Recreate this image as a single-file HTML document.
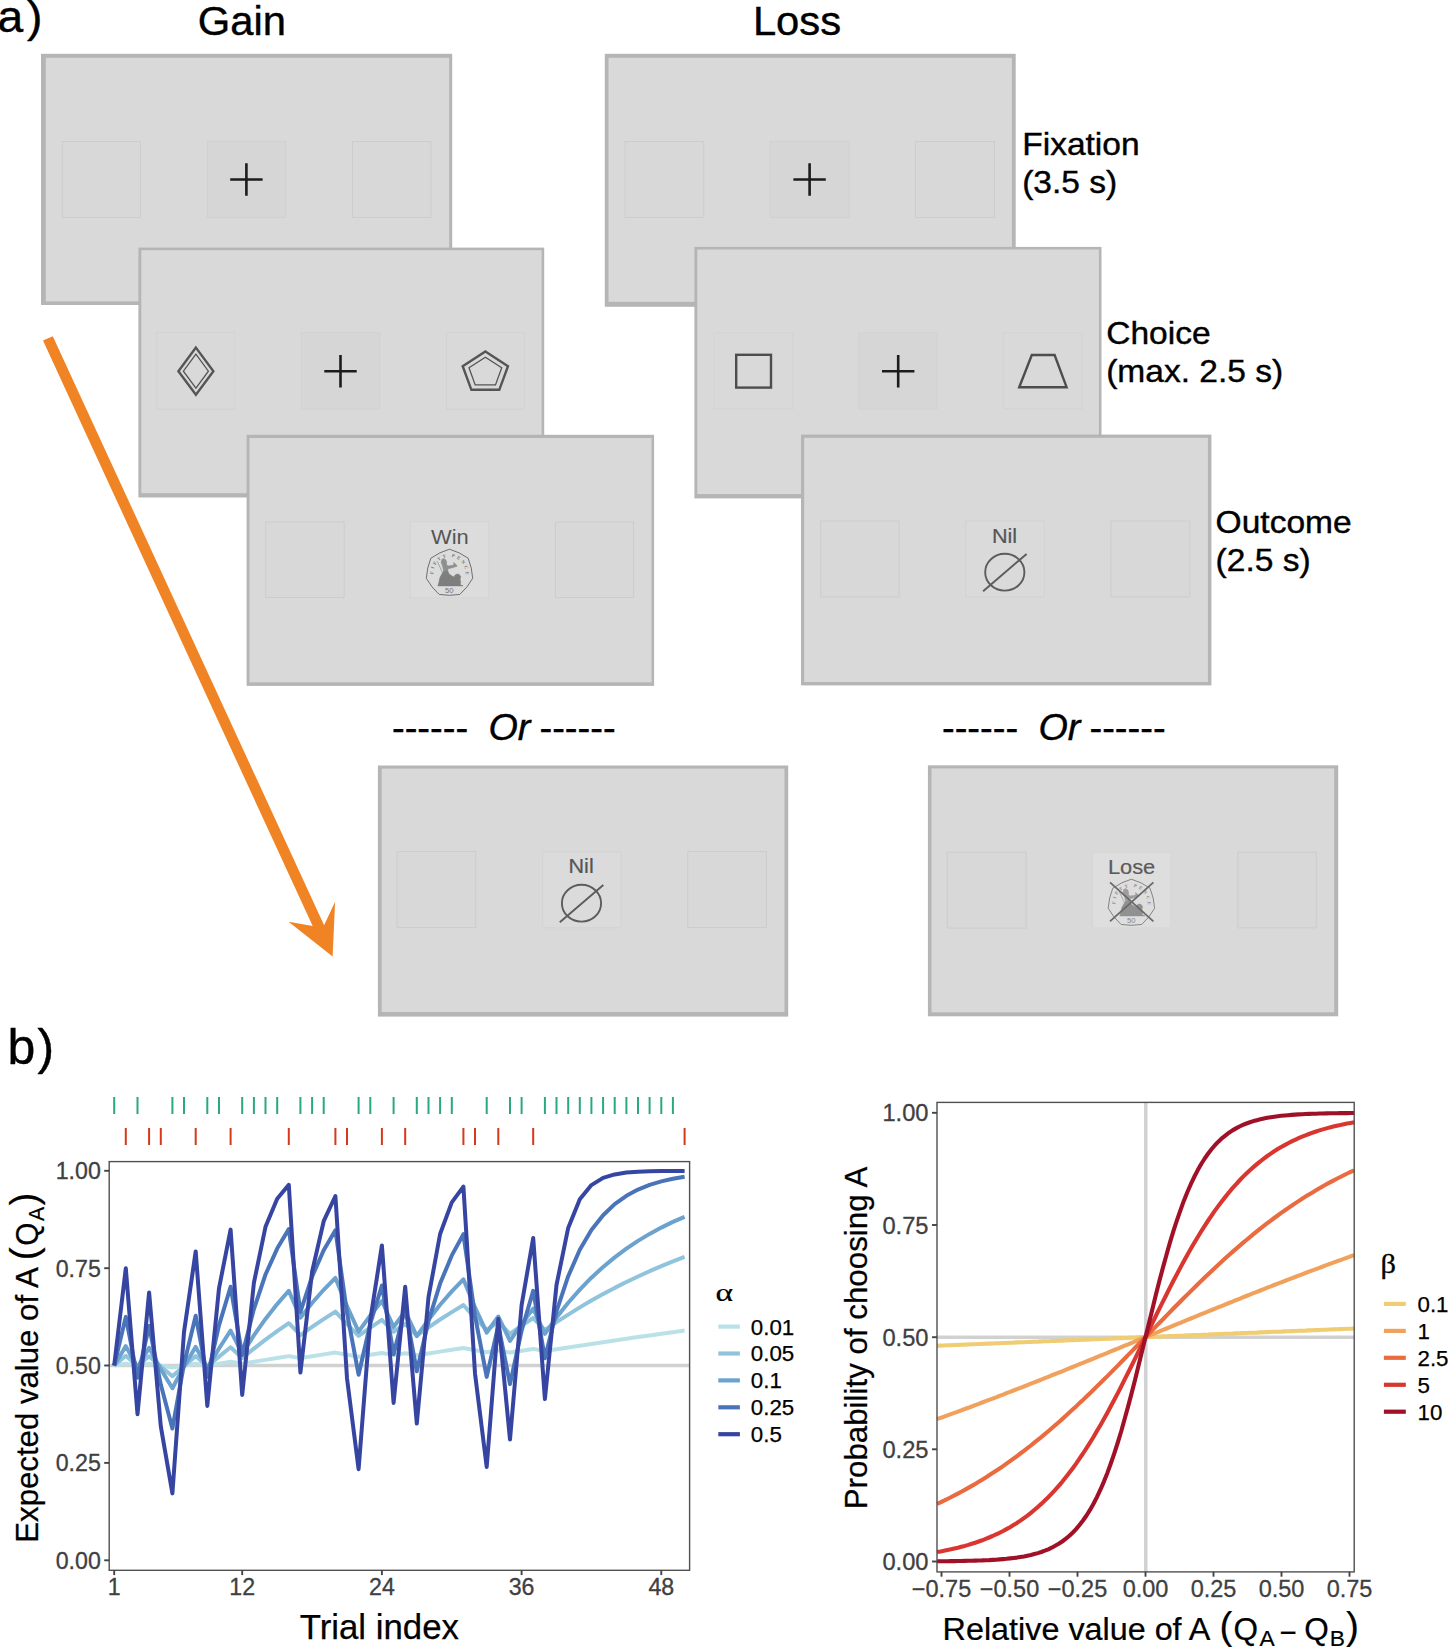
<!DOCTYPE html>
<html lang="en"><head><meta charset="utf-8"><title>Figure</title>
<style>
html,body{margin:0;padding:0;background:#fff;}
svg{display:block;}
text{font-family:"Liberation Sans",sans-serif;}
</style></head><body>
<svg width="1450" height="1649" viewBox="0 0 1450 1649">
<rect width="1450" height="1649" fill="#fff"/>
<text transform="translate(-2.4 32.2) scale(1.04 1)" font-size="44.5" fill="#000" stroke="#000" stroke-width="0.4">a</text>
<text transform="translate(27.0 32.2) scale(1.04 1)" font-size="44.5" fill="#000" stroke="#000" stroke-width="0.4">)</text>
<text transform="translate(197.8 35.3) scale(1.044 1)" font-size="40" fill="#000" stroke="#000" stroke-width="0.4">Gain</text>
<text transform="translate(752.9 35.3) scale(1.044 1)" font-size="40" fill="#000" stroke="#000" stroke-width="0.4">Loss</text>
<rect x="41" y="53.8" width="411.2" height="251.2" fill="#b5b5b5"/>
<rect x="45.8" y="57.8" width="403.4" height="243.6" fill="#d9d9d9"/>
<rect x="62.2" y="141.5" width="78.3" height="76.0" fill="#d8d8d8" stroke="#cdcdcd" stroke-width="1"/>
<rect x="207.4" y="141.5" width="78.4" height="76.0" fill="#d6d6d6" stroke="#d1d1d1" stroke-width="1"/>
<rect x="352.5" y="141.5" width="78.5" height="76.0" fill="#d8d8d8" stroke="#cdcdcd" stroke-width="1"/>
<path d="M230.2 179.5H262.6M246.4 163.3V195.7" stroke="#1c1c1c" stroke-width="2.6" fill="none"/>
<rect x="138.4" y="247.6" width="405.8" height="249.9" fill="#b5b5b5"/>
<rect x="141.3" y="250.2" width="400.3" height="243.0" fill="#d9d9d9"/>
<rect x="156.7" y="332.5" width="78.3" height="76.6" fill="#d9d9d9" stroke="#d3d3d3" stroke-width="1"/>
<rect x="301.5" y="332.5" width="78.3" height="76.6" fill="#d6d6d6" stroke="#d2d2d2" stroke-width="1"/>
<rect x="446.5" y="332.5" width="78.0" height="76.6" fill="#d9d9d9" stroke="#d3d3d3" stroke-width="1"/>
<path d="M324.3 371.2H356.7M340.5 355.0V387.4" stroke="#1c1c1c" stroke-width="2.6" fill="none"/>
<g fill="none" stroke="#555" stroke-linejoin="miter"><path d="M195.9 347.6L213.4 371.2L195.9 394.8L178.4 371.2Z" stroke-width="2.4"/><path d="M195.9 354.2L208.4 371.2L195.9 388.2L183.4 371.2Z" stroke-width="1.3"/></g>
<g fill="none" stroke="#555"><polygon points="485.4,351.5 508.0,366.2 499.3,389.8 471.4,389.8 462.7,366.2" stroke-width="2.4"/><polygon points="485.4,357.2 501.7,367.8 495.5,384.9 475.2,384.9 469.0,367.8" stroke-width="1.3"/></g>
<rect x="246.6" y="434.8" width="407.5" height="251.1" fill="#b5b5b5"/>
<rect x="249.5" y="438.0" width="402.0" height="244.3" fill="#d9d9d9"/>
<rect x="265.7" y="521.9" width="78.5" height="75.6" fill="#d8d8d8" stroke="#cdcdcd" stroke-width="1"/>
<rect x="410.4" y="521.9" width="78.3" height="76.0" fill="#dcdcdc" stroke="#d4d4d4" stroke-width="1"/>
<rect x="555.4" y="521.9" width="78.2" height="75.6" fill="#d8d8d8" stroke="#cdcdcd" stroke-width="1"/>
<text transform="translate(431.0 543.8) scale(1.045 1)" font-size="21" fill="#555">Win</text>
<g opacity="1.0">
<path d="M449.50 549.20 A61.9 61.9 0 0 1 468.11 558.16 A61.9 61.9 0 0 1 472.70 578.30 A61.9 61.9 0 0 1 459.83 594.44 A61.9 61.9 0 0 1 439.17 594.44 A61.9 61.9 0 0 1 426.30 578.30 A61.9 61.9 0 0 1 430.89 558.16 A61.9 61.9 0 0 1 449.50 549.20Z" fill="none" stroke="#6e6e6e" stroke-width="1" stroke-linejoin="round"/>
<path id="c1arc" d="M433.49 574.68 A16.1 16.1 0 1 1 465.51 574.68" fill="none"/>
<text font-size="4.7" font-weight="bold" fill="#777" letter-spacing="2.2" style="font-family:'Liberation Serif',serif"><textPath href="#c1arc" startOffset="0.6">FIFTY PENCE</textPath></text>
<path d="M437.9 585.9 L438.9 582.2 L439.9 577.6 L442.1 573.6 L443.9 570.8 L447.5 570.4 L448.9 573.4 L451.1 575.6 L454.1 577.0 L455.1 575.0 L457.1 574.0 L459.3 574.6 L460.7 576.6 L460.1 579.2 L460.7 582.4 L460.1 584.6 L463.1 585.9Z" fill="#7e7e7e" stroke="#7a7a7a" stroke-width="0.5" stroke-linejoin="round"/>
<path d="M443.7 571.2 L442.9 567.6 L442.1 564.8 L441.1 562.4 L441.9 559.4 L443.9 558.6 L445.9 560.0 L446.7 562.4 L446.5 564.4 L447.9 566.0 L451.7 565.6 L454.1 564.8 L453.5 562.6 L454.9 563.6 L456.5 565.0 L457.1 566.2 L455.1 566.8 L452.1 567.8 L448.1 568.8 L447.7 570.8Z" fill="#8f8f8f" stroke="#858585" stroke-width="0.5" stroke-linejoin="round"/>
<path d="M437.1 561.2L443.3 574.2" stroke="#8a8a8a" stroke-width="0.7"/>
<text x="449.3" y="592.6" font-size="7.7" fill="#747474" text-anchor="middle">50</text>
</g>
<rect x="377.9" y="765.5" width="410.3" height="251.1" fill="#b5b5b5"/>
<rect x="381.7" y="768.6" width="402.8" height="243.4" fill="#d9d9d9"/>
<rect x="397.1" y="851.5" width="78.6" height="76.0" fill="#d8d8d8" stroke="#cdcdcd" stroke-width="1"/>
<rect x="542.6" y="851.9" width="78.3" height="75.9" fill="#dbdbdb" stroke="#d3d3d3" stroke-width="1"/>
<rect x="687.7" y="851.5" width="78.7" height="76.0" fill="#d8d8d8" stroke="#cdcdcd" stroke-width="1"/>
<rect x="604.8" y="53.8" width="410.9" height="253.0" fill="#b5b5b5"/>
<rect x="608.5" y="57.8" width="403.4" height="244.0" fill="#d9d9d9"/>
<rect x="625.0" y="141.5" width="78.7" height="76.0" fill="#d8d8d8" stroke="#cdcdcd" stroke-width="1"/>
<rect x="770.1" y="141.5" width="79.0" height="76.0" fill="#d6d6d6" stroke="#d1d1d1" stroke-width="1"/>
<rect x="915.4" y="141.5" width="79.1" height="76.0" fill="#d8d8d8" stroke="#cdcdcd" stroke-width="1"/>
<path d="M793.4 179.5H825.8M809.6 163.3V195.7" stroke="#1c1c1c" stroke-width="2.6" fill="none"/>
<rect x="694.4" y="246.9" width="407.1" height="251.5" fill="#b5b5b5"/>
<rect x="697.3" y="249.5" width="401.6" height="244.6" fill="#d9d9d9"/>
<rect x="714.2" y="332.8" width="78.5" height="76.1" fill="#d9d9d9" stroke="#d3d3d3" stroke-width="1"/>
<rect x="858.6" y="332.8" width="78.5" height="76.1" fill="#d6d6d6" stroke="#d2d2d2" stroke-width="1"/>
<rect x="1003.4" y="332.8" width="78.4" height="76.1" fill="#d9d9d9" stroke="#d3d3d3" stroke-width="1"/>
<path d="M882.0 371.2H914.4M898.2 355.0V387.4" stroke="#1c1c1c" stroke-width="2.6" fill="none"/>
<rect x="736.2" y="354.8" width="34.8" height="32.8" fill="none" stroke="#4d4d4d" stroke-width="2.4"/>
<path d="M1031.8 355L1054.6 355L1066.6 387.2L1019.2 387.2Z" fill="none" stroke="#4d4d4d" stroke-width="2.4"/>
<rect x="801" y="434.6" width="410.4" height="250.8" fill="#b5b5b5"/>
<rect x="804.2" y="437.8" width="403.7" height="244.2" fill="#d9d9d9"/>
<rect x="820.7" y="521.0" width="78.5" height="75.9" fill="#d8d8d8" stroke="#cdcdcd" stroke-width="1"/>
<rect x="965.7" y="521.0" width="78.6" height="75.9" fill="#dadada" stroke="#d2d2d2" stroke-width="1"/>
<rect x="1110.8" y="521.0" width="79.0" height="75.9" fill="#d8d8d8" stroke="#cdcdcd" stroke-width="1"/>
<text transform="translate(991.9 542.6) scale(1.05 1)" font-size="20.6" fill="#555" stroke="#555" stroke-width="0.2">Nil</text>
<g stroke="#5c5c5c" stroke-width="1.9" fill="none"><ellipse cx="1004.8" cy="572.2" rx="19.6" ry="18.4"/><path d="M983.1 591.2L1026.6 554.0"/></g>
<rect x="927.9" y="765.3" width="410.3" height="251.0" fill="#b5b5b5"/>
<rect x="931.5" y="768.4" width="402.7" height="243.9" fill="#d9d9d9"/>
<rect x="947.3" y="852.2" width="78.8" height="75.9" fill="#d8d8d8" stroke="#cdcdcd" stroke-width="1"/>
<rect x="1092.6" y="852.2" width="78.3" height="75.7" fill="#dedede" stroke="#d6d6d6" stroke-width="1"/>
<rect x="1237.8" y="852.2" width="78.5" height="75.7" fill="#d8d8d8" stroke="#cdcdcd" stroke-width="1"/>
<text transform="translate(1107.9 873.8) scale(1.04 1)" font-size="21" fill="#5a5a5a" stroke="#5a5a5a" stroke-width="0.2">Lose</text>
<g opacity="0.8">
<path d="M1131.40 879.20 A61.9 61.9 0 0 1 1150.01 888.16 A61.9 61.9 0 0 1 1154.60 908.30 A61.9 61.9 0 0 1 1141.73 924.44 A61.9 61.9 0 0 1 1121.07 924.44 A61.9 61.9 0 0 1 1108.20 908.30 A61.9 61.9 0 0 1 1112.79 888.16 A61.9 61.9 0 0 1 1131.40 879.20Z" fill="none" stroke="#6e6e6e" stroke-width="1" stroke-linejoin="round"/>
<path id="c2arc" d="M1115.39 904.68 A16.1 16.1 0 1 1 1147.41 904.68" fill="none"/>
<text font-size="4.7" font-weight="bold" fill="#777" letter-spacing="2.2" style="font-family:'Liberation Serif',serif"><textPath href="#c2arc" startOffset="0.6">FIFTY PENCE</textPath></text>
<path d="M1119.8 915.9 L1120.8 912.2 L1121.8 907.6 L1124.0 903.6 L1125.8 900.8 L1129.4 900.4 L1130.8 903.4 L1133.0 905.6 L1136.0 907.0 L1137.0 905.0 L1139.0 904.0 L1141.2 904.6 L1142.6 906.6 L1142.0 909.2 L1142.6 912.4 L1142.0 914.6 L1145.0 915.9Z" fill="#7e7e7e" stroke="#7a7a7a" stroke-width="0.5" stroke-linejoin="round"/>
<path d="M1125.6 901.2 L1124.8 897.6 L1124.0 894.8 L1123.0 892.4 L1123.8 889.4 L1125.8 888.6 L1127.8 890.0 L1128.6 892.4 L1128.4 894.4 L1129.8 896.0 L1133.6 895.6 L1136.0 894.8 L1135.4 892.6 L1136.8 893.6 L1138.4 895.0 L1139.0 896.2 L1137.0 896.8 L1134.0 897.8 L1130.0 898.8 L1129.6 900.8Z" fill="#8f8f8f" stroke="#858585" stroke-width="0.5" stroke-linejoin="round"/>
<path d="M1119.0 891.2L1125.2 904.2" stroke="#8a8a8a" stroke-width="0.7"/>
<text x="1131.2" y="922.6" font-size="7.7" fill="#747474" text-anchor="middle">50</text>
</g>
<path d="M1110 882.4L1153.4 921.4M1153.4 882.4L1110 921.4" stroke="#6a6a6a" stroke-width="1.8" fill="none"/>
<text transform="translate(568.5 873.2) scale(1.05 1)" font-size="20.6" fill="#555" stroke="#555" stroke-width="0.2">Nil</text>
<g stroke="#5c5c5c" stroke-width="1.9" fill="none"><ellipse cx="581.5" cy="903.2" rx="19.6" ry="18.4"/><path d="M559.8 922.2L603.3 885.0"/></g>
<text transform="translate(1022.2 155.2) scale(1.055 1)" font-size="31.8" fill="#000" stroke="#000" stroke-width="0.4">Fixation</text>
<text transform="translate(1022.2 193.2) scale(1.055 1)" font-size="31.8" fill="#000" stroke="#000" stroke-width="0.4">(3.5 s)</text>
<text transform="translate(1106.2 344.2) scale(1.055 1)" font-size="31.8" fill="#000" stroke="#000" stroke-width="0.4">Choice</text>
<text transform="translate(1106.2 382.2) scale(1.055 1)" font-size="31.8" fill="#000" stroke="#000" stroke-width="0.4">(max. 2.5 s)</text>
<text transform="translate(1215.6 533.4) scale(1.055 1)" font-size="31.8" fill="#000" stroke="#000" stroke-width="0.4">Outcome</text>
<text transform="translate(1215.6 571.4) scale(1.055 1)" font-size="31.8" fill="#000" stroke="#000" stroke-width="0.4">(2.5 s)</text>
<text transform="translate(392.0 740) scale(1.05 1)" font-size="36.3" fill="#000" stroke="#000" stroke-width="0.4">------</text>
<text transform="translate(488.4 740) scale(1.04 1)" font-size="36.3" fill="#000" stroke="#000" stroke-width="0.4" font-style="italic">Or</text>
<text transform="translate(539.5 740) scale(1.05 1)" font-size="36.3" fill="#000" stroke="#000" stroke-width="0.4">------</text>
<text transform="translate(942.0 740) scale(1.05 1)" font-size="36.3" fill="#000" stroke="#000" stroke-width="0.4">------</text>
<text transform="translate(1038.4 740) scale(1.04 1)" font-size="36.3" fill="#000" stroke="#000" stroke-width="0.4" font-style="italic">Or</text>
<text transform="translate(1089.5 740) scale(1.05 1)" font-size="36.3" fill="#000" stroke="#000" stroke-width="0.4">------</text>
<polygon points="52.8,336.2 324.1,925.3 335.1,901.7 332.6,956.6 288.6,921.8 312.7,926.1 43.0,340.6" fill="#f08324"/>
<text transform="translate(7.4 1064.2) scale(1.0 1)" font-size="50" fill="#000" stroke="#000" stroke-width="0.4">b</text>
<text transform="translate(37.6 1064.2) scale(1.0 1)" font-size="50" fill="#000" stroke="#000" stroke-width="0.4">)</text>
<path d="M114.2 1097V1114M137.5 1097V1114M172.4 1097V1114M184.0 1097V1114M207.3 1097V1114M219.0 1097V1114M242.2 1097V1114M253.9 1097V1114M265.5 1097V1114M277.2 1097V1114M300.4 1097V1114M312.1 1097V1114M323.7 1097V1114M358.6 1097V1114M370.3 1097V1114M393.6 1097V1114M416.8 1097V1114M428.5 1097V1114M440.1 1097V1114M451.8 1097V1114M486.7 1097V1114M510.0 1097V1114M521.6 1097V1114M544.9 1097V1114M556.5 1097V1114M568.2 1097V1114M579.8 1097V1114M591.4 1097V1114M603.1 1097V1114M614.7 1097V1114M626.4 1097V1114M638.0 1097V1114M649.6 1097V1114M661.3 1097V1114M672.9 1097V1114" stroke="#2aa884" stroke-width="2" fill="none"/>
<path d="M125.8 1128V1145M149.1 1128V1145M160.8 1128V1145M195.7 1128V1145M230.6 1128V1145M288.8 1128V1145M335.4 1128V1145M347.0 1128V1145M381.9 1128V1145M405.2 1128V1145M463.4 1128V1145M475.0 1128V1145M498.3 1128V1145M533.2 1128V1145M684.6 1128V1145" stroke="#d5391b" stroke-width="2" fill="none"/>
<path d="M109.2 1365.5H689.6" stroke="#d1d1d1" stroke-width="3.5"/>
<polyline points="114.2,1365.5 125.8,1363.6 137.5,1365.6 149.1,1363.6 160.8,1365.6 172.4,1367.5 184.0,1365.6 195.7,1363.6 207.3,1365.6 219.0,1363.6 230.6,1361.7 242.2,1363.7 253.9,1361.8 265.5,1359.9 277.2,1358.0 288.8,1356.1 300.4,1358.1 312.1,1356.3 323.7,1354.4 335.4,1352.6 347.0,1354.7 358.6,1356.7 370.3,1354.8 381.9,1353.0 393.6,1355.1 405.2,1353.2 416.8,1355.3 428.5,1353.5 440.1,1351.6 451.8,1349.8 463.4,1348.0 475.0,1350.2 486.7,1352.3 498.3,1350.4 510.0,1352.5 521.6,1350.7 533.2,1348.9 544.9,1351.0 556.5,1349.2 568.2,1347.5 579.8,1345.7 591.4,1343.9 603.1,1342.2 614.7,1340.5 626.4,1338.8 638.0,1337.1 649.6,1335.5 661.3,1333.8 672.9,1332.2 684.6,1330.6" fill="none" stroke="#bbe1e8" stroke-width="4.0" stroke-linejoin="round" stroke-linecap="butt"/>
<polyline points="114.2,1365.5 125.8,1355.8 137.5,1366.0 149.1,1356.3 160.8,1366.5 172.4,1376.2 184.0,1365.9 195.7,1356.1 207.3,1366.4 219.0,1356.6 230.6,1347.3 242.2,1357.9 253.9,1348.6 265.5,1339.7 277.2,1331.2 288.8,1323.2 300.4,1335.1 312.1,1326.9 323.7,1319.1 335.4,1311.6 347.0,1324.1 358.6,1335.9 370.3,1327.6 381.9,1319.8 393.6,1331.8 405.2,1323.8 416.8,1335.6 428.5,1327.4 440.1,1319.5 451.8,1312.1 463.4,1305.0 475.0,1317.8 486.7,1329.9 498.3,1322.0 510.0,1333.9 521.6,1325.7 533.2,1318.0 544.9,1330.1 556.5,1322.1 568.2,1314.6 579.8,1307.4 591.4,1300.5 603.1,1294.1 614.7,1287.9 626.4,1282.0 638.0,1276.5 649.6,1271.2 661.3,1266.2 672.9,1261.4 684.6,1256.9" fill="none" stroke="#90c3dc" stroke-width="4.0" stroke-linejoin="round" stroke-linecap="butt"/>
<polyline points="114.2,1365.5 125.8,1346.1 137.5,1367.5 149.1,1347.8 160.8,1369.1 172.4,1388.2 184.0,1366.5 195.7,1346.9 207.3,1368.2 219.0,1348.5 230.6,1330.7 242.2,1353.7 253.9,1335.4 265.5,1318.9 277.2,1304.1 288.8,1290.8 300.4,1317.7 312.1,1303.0 323.7,1289.8 335.4,1277.9 347.0,1306.2 358.6,1331.6 370.3,1315.5 381.9,1301.0 393.6,1327.0 405.2,1311.3 416.8,1336.2 428.5,1319.7 440.1,1304.8 451.8,1291.4 463.4,1279.3 475.0,1307.4 486.7,1332.7 498.3,1316.5 510.0,1340.9 521.6,1323.9 533.2,1308.6 544.9,1333.8 556.5,1317.5 568.2,1302.8 579.8,1289.6 591.4,1277.7 603.1,1267.0 614.7,1257.4 626.4,1248.7 638.0,1240.9 649.6,1233.9 661.3,1227.6 672.9,1221.9 684.6,1216.8" fill="none" stroke="#6ba2ce" stroke-width="4.0" stroke-linejoin="round" stroke-linecap="butt"/>
<polyline points="114.2,1365.5 125.8,1316.9 137.5,1377.7 149.1,1326.0 160.8,1384.6 172.4,1428.5 184.0,1364.1 195.7,1315.8 207.3,1376.9 219.0,1325.4 230.6,1286.7 242.2,1355.1 253.9,1309.0 265.5,1274.5 277.2,1248.6 288.8,1229.1 300.4,1311.9 312.1,1276.6 323.7,1250.2 335.4,1230.3 347.0,1312.8 358.6,1374.7 370.3,1323.7 381.9,1285.5 393.6,1354.2 405.2,1308.3 416.8,1371.3 428.5,1321.2 440.1,1283.6 451.8,1255.4 463.4,1234.2 475.0,1315.8 486.7,1376.9 498.3,1325.4 510.0,1384.1 521.6,1330.8 533.2,1290.8 544.9,1358.2 556.5,1311.3 568.2,1276.2 579.8,1249.8 591.4,1230.1 603.1,1215.3 614.7,1204.1 626.4,1195.8 638.0,1189.6 649.6,1184.9 661.3,1181.4 672.9,1178.7 684.6,1176.7" fill="none" stroke="#4a74b9" stroke-width="4.0" stroke-linejoin="round" stroke-linecap="butt"/>
<polyline points="114.2,1365.5 125.8,1268.2 137.5,1414.2 149.1,1292.5 160.8,1426.4 172.4,1493.4 184.0,1332.1 195.7,1251.4 207.3,1405.9 219.0,1288.3 230.6,1229.6 242.2,1394.9 253.9,1282.9 265.5,1226.8 277.2,1198.8 288.8,1184.8 300.4,1372.6 312.1,1271.7 323.7,1221.2 335.4,1196.0 347.0,1378.2 358.6,1469.2 370.3,1320.0 381.9,1245.4 393.6,1402.9 405.2,1286.8 416.8,1423.6 428.5,1297.2 440.1,1234.0 451.8,1202.4 463.4,1186.6 475.0,1373.4 486.7,1466.9 498.3,1318.8 510.0,1439.6 521.6,1305.2 533.2,1238.0 544.9,1399.1 556.5,1285.0 568.2,1227.9 579.8,1199.3 591.4,1185.1 603.1,1177.9 614.7,1174.4 626.4,1172.6 638.0,1171.7 649.6,1171.2 661.3,1171.0 672.9,1170.9 684.6,1170.9" fill="none" stroke="#3645a1" stroke-width="4.0" stroke-linejoin="round" stroke-linecap="butt"/>
<rect x="109.2" y="1161.6" width="580.4" height="408.7" fill="none" stroke="#505050" stroke-width="1.4"/>
<path d="M104.2 1170.8H109.2" stroke="#444" stroke-width="1.9"/>
<text x="100.8" y="1179.2" font-size="23.2" fill="#404040" stroke="#404040" stroke-width="0.3" text-anchor="end">1.00</text>
<path d="M104.2 1268.2H109.2" stroke="#444" stroke-width="1.9"/>
<text x="100.8" y="1276.6" font-size="23.2" fill="#404040" stroke="#404040" stroke-width="0.3" text-anchor="end">0.75</text>
<path d="M104.2 1365.5H109.2" stroke="#444" stroke-width="1.9"/>
<text x="100.8" y="1374.0" font-size="23.2" fill="#404040" stroke="#404040" stroke-width="0.3" text-anchor="end">0.50</text>
<path d="M104.2 1462.9H109.2" stroke="#444" stroke-width="1.9"/>
<text x="100.8" y="1471.3" font-size="23.2" fill="#404040" stroke="#404040" stroke-width="0.3" text-anchor="end">0.25</text>
<path d="M104.2 1560.3H109.2" stroke="#444" stroke-width="1.9"/>
<text x="100.8" y="1568.7" font-size="23.2" fill="#404040" stroke="#404040" stroke-width="0.3" text-anchor="end">0.00</text>
<path d="M114.2 1570.3V1575.1" stroke="#444" stroke-width="1.9"/>
<text x="114.2" y="1595.4" font-size="23.2" fill="#404040" stroke="#404040" stroke-width="0.3" text-anchor="middle">1</text>
<path d="M242.2 1570.3V1575.1" stroke="#444" stroke-width="1.9"/>
<text x="242.2" y="1595.4" font-size="23.2" fill="#404040" stroke="#404040" stroke-width="0.3" text-anchor="middle">12</text>
<path d="M381.9 1570.3V1575.1" stroke="#444" stroke-width="1.9"/>
<text x="381.9" y="1595.4" font-size="23.2" fill="#404040" stroke="#404040" stroke-width="0.3" text-anchor="middle">24</text>
<path d="M521.6 1570.3V1575.1" stroke="#444" stroke-width="1.9"/>
<text x="521.6" y="1595.4" font-size="23.2" fill="#404040" stroke="#404040" stroke-width="0.3" text-anchor="middle">36</text>
<path d="M661.3 1570.3V1575.1" stroke="#444" stroke-width="1.9"/>
<text x="661.3" y="1595.4" font-size="23.2" fill="#404040" stroke="#404040" stroke-width="0.3" text-anchor="middle">48</text>
<text transform="translate(299.7 1639.1) scale(1.0 1)" font-size="34.8" fill="#000" stroke="#000" stroke-width="0.25">Trial index</text>
<g transform="translate(37.9 1540.4) rotate(-90)">
<text transform="translate(-2.3 0) scale(0.9745 1)" font-size="32" fill="#000" stroke="#000" stroke-width="0.25">Expected value of A</text>
<text transform="translate(280.2 -0.6) scale(1.0 1)" font-size="38.7" fill="#000" stroke="#000" stroke-width="0.2">(</text>
<text transform="translate(294.6 0) scale(0.93 1)" font-size="32" fill="#000" stroke="#000" stroke-width="0.25">Q</text>
<text transform="translate(319.4 5.8) scale(0.93 1)" font-size="22.9" fill="#000" stroke="#000" stroke-width="0.2">A</text>
<text transform="translate(335.0 -0.6) scale(1.0 1)" font-size="38.7" fill="#000" stroke="#000" stroke-width="0.2">)</text>
</g>
<text transform="translate(715.4 1301.4) scale(1.34 1)" font-size="25" fill="#000" stroke="#000" stroke-width="0.2" style="font-family:'Liberation Serif',serif">α</text>
<path d="M718.3 1326.6H739.9" stroke="#bbe1e8" stroke-width="4.2"/>
<text x="750.8" y="1334.5" font-size="22.3" fill="#000" stroke="#000" stroke-width="0.25">0.01</text>
<path d="M718.3 1353.5H739.9" stroke="#90c3dc" stroke-width="4.2"/>
<text x="750.8" y="1361.4" font-size="22.3" fill="#000" stroke="#000" stroke-width="0.25">0.05</text>
<path d="M718.3 1380.4H739.9" stroke="#6ba2ce" stroke-width="4.2"/>
<text x="750.8" y="1388.3" font-size="22.3" fill="#000" stroke="#000" stroke-width="0.25">0.1</text>
<path d="M718.3 1407.3H739.9" stroke="#4a74b9" stroke-width="4.2"/>
<text x="750.8" y="1415.2" font-size="22.3" fill="#000" stroke="#000" stroke-width="0.25">0.25</text>
<path d="M718.3 1434.2H739.9" stroke="#3645a1" stroke-width="4.2"/>
<text x="750.8" y="1442.1" font-size="22.3" fill="#000" stroke="#000" stroke-width="0.25">0.5</text>
<path d="M937 1337.2H1354.2" stroke="#d1d1d1" stroke-width="3.5"/>
<path d="M1145.8 1102.4V1571.9" stroke="#d1d1d1" stroke-width="3.5"/>
<polyline points="937.0,1345.7 940.5,1345.6 944.0,1345.5 947.4,1345.3 950.9,1345.2 954.4,1345.0 957.9,1344.9 961.3,1344.7 964.8,1344.6 968.3,1344.5 971.8,1344.3 975.2,1344.2 978.7,1344.0 982.2,1343.9 985.7,1343.7 989.1,1343.6 992.6,1343.5 996.1,1343.3 999.6,1343.2 1003.1,1343.0 1006.5,1342.9 1010.0,1342.7 1013.5,1342.6 1017.0,1342.4 1020.4,1342.3 1023.9,1342.2 1027.4,1342.0 1030.9,1341.9 1034.3,1341.7 1037.8,1341.6 1041.3,1341.4 1044.8,1341.3 1048.3,1341.2 1051.7,1341.0 1055.2,1340.9 1058.7,1340.7 1062.2,1340.6 1065.6,1340.4 1069.1,1340.3 1072.6,1340.2 1076.1,1340.0 1079.5,1339.9 1083.0,1339.7 1086.5,1339.6 1090.0,1339.4 1093.5,1339.3 1096.9,1339.2 1100.4,1339.0 1103.9,1338.9 1107.4,1338.7 1110.8,1338.6 1114.3,1338.4 1117.8,1338.3 1121.3,1338.1 1124.7,1338.0 1128.2,1337.9 1131.7,1337.7 1135.2,1337.6 1138.6,1337.4 1142.1,1337.3 1145.6,1337.1 1149.1,1337.0 1152.6,1336.9 1156.0,1336.7 1159.5,1336.6 1163.0,1336.4 1166.5,1336.3 1169.9,1336.1 1173.4,1336.0 1176.9,1335.9 1180.4,1335.7 1183.8,1335.6 1187.3,1335.4 1190.8,1335.3 1194.3,1335.1 1197.8,1335.0 1201.2,1334.9 1204.7,1334.7 1208.2,1334.6 1211.7,1334.4 1215.1,1334.3 1218.6,1334.1 1222.1,1334.0 1225.6,1333.8 1229.0,1333.7 1232.5,1333.6 1236.0,1333.4 1239.5,1333.3 1242.9,1333.1 1246.4,1333.0 1249.9,1332.8 1253.4,1332.7 1256.9,1332.6 1260.3,1332.4 1263.8,1332.3 1267.3,1332.1 1270.8,1332.0 1274.2,1331.8 1277.7,1331.7 1281.2,1331.6 1284.7,1331.4 1288.1,1331.3 1291.6,1331.1 1295.1,1331.0 1298.6,1330.8 1302.1,1330.7 1305.5,1330.6 1309.0,1330.4 1312.5,1330.3 1316.0,1330.1 1319.4,1330.0 1322.9,1329.8 1326.4,1329.7 1329.9,1329.5 1333.3,1329.4 1336.8,1329.3 1340.3,1329.1 1343.8,1329.0 1347.2,1328.8 1350.7,1328.7 1354.2,1328.5" fill="none" stroke="#f0cc73" stroke-width="4.1" stroke-linejoin="round"/>
<polyline points="937.0,1419.2 940.5,1417.9 944.0,1416.7 947.4,1415.4 950.9,1414.1 954.4,1412.9 957.9,1411.6 961.3,1410.3 964.8,1409.0 968.3,1407.8 971.8,1406.5 975.2,1405.2 978.7,1403.9 982.2,1402.5 985.7,1401.2 989.1,1399.9 992.6,1398.6 996.1,1397.3 999.6,1395.9 1003.1,1394.6 1006.5,1393.2 1010.0,1391.9 1013.5,1390.5 1017.0,1389.2 1020.4,1387.8 1023.9,1386.5 1027.4,1385.1 1030.9,1383.7 1034.3,1382.4 1037.8,1381.0 1041.3,1379.6 1044.8,1378.2 1048.3,1376.8 1051.7,1375.4 1055.2,1374.0 1058.7,1372.7 1062.2,1371.3 1065.6,1369.9 1069.1,1368.4 1072.6,1367.0 1076.1,1365.6 1079.5,1364.2 1083.0,1362.8 1086.5,1361.4 1090.0,1360.0 1093.5,1358.6 1096.9,1357.1 1100.4,1355.7 1103.9,1354.3 1107.4,1352.9 1110.8,1351.4 1114.3,1350.0 1117.8,1348.6 1121.3,1347.1 1124.7,1345.7 1128.2,1344.3 1131.7,1342.8 1135.2,1341.4 1138.6,1340.0 1142.1,1338.5 1145.6,1337.1 1149.1,1335.7 1152.6,1334.2 1156.0,1332.8 1159.5,1331.4 1163.0,1329.9 1166.5,1328.5 1169.9,1327.1 1173.4,1325.6 1176.9,1324.2 1180.4,1322.8 1183.8,1321.4 1187.3,1319.9 1190.8,1318.5 1194.3,1317.1 1197.8,1315.7 1201.2,1314.2 1204.7,1312.8 1208.2,1311.4 1211.7,1310.0 1215.1,1308.6 1218.6,1307.2 1222.1,1305.8 1225.6,1304.4 1229.0,1303.0 1232.5,1301.6 1236.0,1300.2 1239.5,1298.8 1242.9,1297.4 1246.4,1296.0 1249.9,1294.6 1253.4,1293.2 1256.9,1291.9 1260.3,1290.5 1263.8,1289.1 1267.3,1287.7 1270.8,1286.4 1274.2,1285.0 1277.7,1283.7 1281.2,1282.3 1284.7,1281.0 1288.1,1279.6 1291.6,1278.3 1295.1,1277.0 1298.6,1275.6 1302.1,1274.3 1305.5,1273.0 1309.0,1271.7 1312.5,1270.4 1316.0,1269.1 1319.4,1267.8 1322.9,1266.5 1326.4,1265.2 1329.9,1263.9 1333.3,1262.6 1336.8,1261.3 1340.3,1260.1 1343.8,1258.8 1347.2,1257.6 1350.7,1256.3 1354.2,1255.1" fill="none" stroke="#f0a15c" stroke-width="4.1" stroke-linejoin="round"/>
<polyline points="937.0,1503.9 940.5,1502.3 944.0,1500.7 947.4,1499.0 950.9,1497.2 954.4,1495.4 957.9,1493.6 961.3,1491.8 964.8,1489.9 968.3,1487.9 971.8,1485.9 975.2,1483.9 978.7,1481.8 982.2,1479.7 985.7,1477.6 989.1,1475.3 992.6,1473.1 996.1,1470.8 999.6,1468.5 1003.1,1466.1 1006.5,1463.7 1010.0,1461.2 1013.5,1458.7 1017.0,1456.1 1020.4,1453.5 1023.9,1450.9 1027.4,1448.2 1030.9,1445.5 1034.3,1442.7 1037.8,1439.9 1041.3,1437.1 1044.8,1434.2 1048.3,1431.2 1051.7,1428.3 1055.2,1425.2 1058.7,1422.2 1062.2,1419.1 1065.6,1416.0 1069.1,1412.8 1072.6,1409.6 1076.1,1406.4 1079.5,1403.1 1083.0,1399.9 1086.5,1396.5 1090.0,1393.2 1093.5,1389.8 1096.9,1386.4 1100.4,1383.0 1103.9,1379.5 1107.4,1376.1 1110.8,1372.6 1114.3,1369.1 1117.8,1365.6 1121.3,1362.0 1124.7,1358.5 1128.2,1354.9 1131.7,1351.4 1135.2,1347.8 1138.6,1344.2 1142.1,1340.6 1145.6,1337.0 1149.1,1333.5 1152.6,1329.9 1156.0,1326.3 1159.5,1322.7 1163.0,1319.2 1166.5,1315.6 1169.9,1312.1 1173.4,1308.5 1176.9,1305.0 1180.4,1301.5 1183.8,1298.0 1187.3,1294.6 1190.8,1291.1 1194.3,1287.7 1197.8,1284.3 1201.2,1280.9 1204.7,1277.6 1208.2,1274.3 1211.7,1271.0 1215.1,1267.7 1218.6,1264.5 1222.1,1261.3 1225.6,1258.1 1229.0,1255.0 1232.5,1251.9 1236.0,1248.9 1239.5,1245.9 1242.9,1242.9 1246.4,1240.0 1249.9,1237.1 1253.4,1234.2 1256.9,1231.4 1260.3,1228.6 1263.8,1225.9 1267.3,1223.2 1270.8,1220.6 1274.2,1218.0 1277.7,1215.5 1281.2,1212.9 1284.7,1210.5 1288.1,1208.1 1291.6,1205.7 1295.1,1203.4 1298.6,1201.1 1302.1,1198.8 1305.5,1196.6 1309.0,1194.5 1312.5,1192.4 1316.0,1190.3 1319.4,1188.3 1322.9,1186.3 1326.4,1184.3 1329.9,1182.4 1333.3,1180.6 1336.8,1178.8 1340.3,1177.0 1343.8,1175.2 1347.2,1173.5 1350.7,1171.9 1354.2,1170.3" fill="none" stroke="#e96b3f" stroke-width="4.1" stroke-linejoin="round"/>
<polyline points="937.0,1552.0 940.5,1551.4 944.0,1550.7 947.4,1550.0 950.9,1549.3 954.4,1548.5 957.9,1547.7 961.3,1546.8 964.8,1545.9 968.3,1544.9 971.8,1543.8 975.2,1542.7 978.7,1541.5 982.2,1540.3 985.7,1538.9 989.1,1537.5 992.6,1536.0 996.1,1534.4 999.6,1532.8 1003.1,1531.0 1006.5,1529.1 1010.0,1527.2 1013.5,1525.1 1017.0,1522.9 1020.4,1520.6 1023.9,1518.1 1027.4,1515.6 1030.9,1512.9 1034.3,1510.0 1037.8,1507.0 1041.3,1503.9 1044.8,1500.6 1048.3,1497.2 1051.7,1493.6 1055.2,1489.8 1058.7,1485.9 1062.2,1481.8 1065.6,1477.5 1069.1,1473.0 1072.6,1468.4 1076.1,1463.6 1079.5,1458.6 1083.0,1453.5 1086.5,1448.1 1090.0,1442.6 1093.5,1437.0 1096.9,1431.1 1100.4,1425.2 1103.9,1419.0 1107.4,1412.7 1110.8,1406.3 1114.3,1399.8 1117.8,1393.1 1121.3,1386.3 1124.7,1379.4 1128.2,1372.5 1131.7,1365.5 1135.2,1358.4 1138.6,1351.3 1142.1,1344.1 1145.6,1336.9 1149.1,1329.8 1152.6,1322.6 1156.0,1315.5 1159.5,1308.4 1163.0,1301.4 1166.5,1294.5 1169.9,1287.6 1173.4,1280.8 1176.9,1274.2 1180.4,1267.6 1183.8,1261.2 1187.3,1254.9 1190.8,1248.8 1194.3,1242.8 1197.8,1237.0 1201.2,1231.3 1204.7,1225.8 1208.2,1220.5 1211.7,1215.4 1215.1,1210.4 1218.6,1205.6 1222.1,1201.0 1225.6,1196.6 1229.0,1192.3 1232.5,1188.2 1236.0,1184.3 1239.5,1180.5 1242.9,1176.9 1246.4,1173.5 1249.9,1170.2 1253.4,1167.1 1256.9,1164.1 1260.3,1161.3 1263.8,1158.6 1267.3,1156.0 1270.8,1153.6 1274.2,1151.3 1277.7,1149.1 1281.2,1147.0 1284.7,1145.1 1288.1,1143.2 1291.6,1141.4 1295.1,1139.8 1298.6,1138.2 1302.1,1136.7 1305.5,1135.3 1309.0,1134.0 1312.5,1132.7 1316.0,1131.5 1319.4,1130.4 1322.9,1129.4 1326.4,1128.4 1329.9,1127.4 1333.3,1126.6 1336.8,1125.7 1340.3,1125.0 1343.8,1124.2 1347.2,1123.5 1350.7,1122.9 1354.2,1122.3" fill="none" stroke="#d93630" stroke-width="4.1" stroke-linejoin="round"/>
<polyline points="937.0,1561.3 940.5,1561.3 944.0,1561.2 947.4,1561.2 950.9,1561.1 954.4,1561.1 957.9,1561.0 961.3,1561.0 964.8,1560.9 968.3,1560.8 971.8,1560.7 975.2,1560.6 978.7,1560.5 982.2,1560.4 985.7,1560.2 989.1,1560.1 992.6,1559.9 996.1,1559.7 999.6,1559.4 1003.1,1559.1 1006.5,1558.8 1010.0,1558.4 1013.5,1558.0 1017.0,1557.6 1020.4,1557.0 1023.9,1556.4 1027.4,1555.7 1030.9,1555.0 1034.3,1554.1 1037.8,1553.1 1041.3,1552.0 1044.8,1550.7 1048.3,1549.3 1051.7,1547.7 1055.2,1545.8 1058.7,1543.8 1062.2,1541.5 1065.6,1538.9 1069.1,1536.0 1072.6,1532.7 1076.1,1529.1 1079.5,1525.0 1083.0,1520.5 1086.5,1515.5 1090.0,1509.9 1093.5,1503.8 1096.9,1497.1 1100.4,1489.7 1103.9,1481.6 1107.4,1472.9 1110.8,1463.5 1114.3,1453.3 1117.8,1442.5 1121.3,1431.0 1124.7,1418.8 1128.2,1406.1 1131.7,1392.9 1135.2,1379.2 1138.6,1365.3 1142.1,1351.1 1145.6,1336.7 1149.1,1322.4 1152.6,1308.2 1156.0,1294.3 1159.5,1280.6 1163.0,1267.4 1166.5,1254.7 1169.9,1242.6 1173.4,1231.2 1176.9,1220.4 1180.4,1210.3 1183.8,1200.9 1187.3,1192.2 1190.8,1184.2 1194.3,1176.8 1197.8,1170.1 1201.2,1164.0 1204.7,1158.5 1208.2,1153.5 1211.7,1149.0 1215.1,1145.0 1218.6,1141.4 1222.1,1138.1 1225.6,1135.3 1229.0,1132.7 1232.5,1130.4 1236.0,1128.4 1239.5,1126.5 1242.9,1124.9 1246.4,1123.5 1249.9,1122.3 1253.4,1121.1 1256.9,1120.2 1260.3,1119.3 1263.8,1118.5 1267.3,1117.8 1270.8,1117.2 1274.2,1116.7 1277.7,1116.2 1281.2,1115.8 1284.7,1115.5 1288.1,1115.2 1291.6,1114.9 1295.1,1114.6 1298.6,1114.4 1302.1,1114.2 1305.5,1114.0 1309.0,1113.9 1312.5,1113.8 1316.0,1113.7 1319.4,1113.5 1322.9,1113.5 1326.4,1113.4 1329.9,1113.3 1333.3,1113.2 1336.8,1113.2 1340.3,1113.1 1343.8,1113.1 1347.2,1113.1 1350.7,1113.0 1354.2,1113.0" fill="none" stroke="#a01128" stroke-width="4.1" stroke-linejoin="round"/>
<rect x="937" y="1102.4" width="417.2" height="469.5" fill="none" stroke="#505050" stroke-width="1.4"/>
<path d="M932.0 1112.8H937" stroke="#444" stroke-width="1.9"/>
<text x="928.5" y="1121.4" font-size="23.7" fill="#404040" stroke="#404040" stroke-width="0.3" text-anchor="end">1.00</text>
<path d="M932.0 1225.0H937" stroke="#444" stroke-width="1.9"/>
<text x="928.5" y="1233.6" font-size="23.7" fill="#404040" stroke="#404040" stroke-width="0.3" text-anchor="end">0.75</text>
<path d="M932.0 1337.2H937" stroke="#444" stroke-width="1.9"/>
<text x="928.5" y="1345.8" font-size="23.7" fill="#404040" stroke="#404040" stroke-width="0.3" text-anchor="end">0.50</text>
<path d="M932.0 1449.3H937" stroke="#444" stroke-width="1.9"/>
<text x="928.5" y="1457.9" font-size="23.7" fill="#404040" stroke="#404040" stroke-width="0.3" text-anchor="end">0.25</text>
<path d="M932.0 1561.5H937" stroke="#444" stroke-width="1.9"/>
<text x="928.5" y="1570.1" font-size="23.7" fill="#404040" stroke="#404040" stroke-width="0.3" text-anchor="end">0.00</text>
<path d="M941.5 1571.9V1576.7" stroke="#444" stroke-width="1.9"/>
<text x="941.5" y="1597.4" font-size="23.5" fill="#404040" stroke="#404040" stroke-width="0.3" text-anchor="middle">−0.75</text>
<path d="M1009.5 1571.9V1576.7" stroke="#444" stroke-width="1.9"/>
<text x="1009.5" y="1597.4" font-size="23.5" fill="#404040" stroke="#404040" stroke-width="0.3" text-anchor="middle">−0.50</text>
<path d="M1077.5 1571.9V1576.7" stroke="#444" stroke-width="1.9"/>
<text x="1077.5" y="1597.4" font-size="23.5" fill="#404040" stroke="#404040" stroke-width="0.3" text-anchor="middle">−0.25</text>
<path d="M1145.5 1571.9V1576.7" stroke="#444" stroke-width="1.9"/>
<text x="1145.5" y="1597.4" font-size="23.5" fill="#404040" stroke="#404040" stroke-width="0.3" text-anchor="middle">0.00</text>
<path d="M1213.5 1571.9V1576.7" stroke="#444" stroke-width="1.9"/>
<text x="1213.5" y="1597.4" font-size="23.5" fill="#404040" stroke="#404040" stroke-width="0.3" text-anchor="middle">0.25</text>
<path d="M1281.5 1571.9V1576.7" stroke="#444" stroke-width="1.9"/>
<text x="1281.5" y="1597.4" font-size="23.5" fill="#404040" stroke="#404040" stroke-width="0.3" text-anchor="middle">0.50</text>
<path d="M1349.5 1571.9V1576.7" stroke="#444" stroke-width="1.9"/>
<text x="1349.5" y="1597.4" font-size="23.5" fill="#404040" stroke="#404040" stroke-width="0.3" text-anchor="middle">0.75</text>
<text transform="translate(942.6 1640) scale(1.027 1)" font-size="31.5" fill="#000" stroke="#000" stroke-width="0.25">Relative value of A</text>
<text transform="translate(1219.6 1639.4) scale(1.0 1)" font-size="38.7" fill="#000" stroke="#000" stroke-width="0.2">(</text>
<text transform="translate(1233.4 1640) scale(1.0 1)" font-size="31.5" fill="#000" stroke="#000" stroke-width="0.25">Q</text>
<text transform="translate(1259.6 1646) scale(1.0 1)" font-size="22.8" fill="#000" stroke="#000" stroke-width="0.2">A</text>
<text transform="translate(1279.4 1643.4) scale(0.93 1)" font-size="31.5" fill="#000" stroke="#000" stroke-width="0.25">−</text>
<text transform="translate(1304.3 1640) scale(1.0 1)" font-size="31.5" fill="#000" stroke="#000" stroke-width="0.25">Q</text>
<text transform="translate(1329.8 1646) scale(1.0 1)" font-size="22.8" fill="#000" stroke="#000" stroke-width="0.2">B</text>
<text transform="translate(1346.0 1639.4) scale(1.0 1)" font-size="38.7" fill="#000" stroke="#000" stroke-width="0.2">)</text>
<g transform="translate(867.4 1506.9) rotate(-90)">
<text transform="translate(-2.4 0) scale(0.994 1)" font-size="31.5" fill="#000" stroke="#000" stroke-width="0.25">Probability of choosing A</text>
</g>
<text transform="translate(1380.6 1272.7) scale(1.09 1)" font-size="28" fill="#000" stroke="#000" stroke-width="0.3" style="font-family:'Liberation Serif',serif">β</text>
<path d="M1383.9 1303.9H1405.8" stroke="#f0cc73" stroke-width="4.2"/>
<text x="1417.5" y="1311.8" font-size="22.3" fill="#000" stroke="#000" stroke-width="0.25">0.1</text>
<path d="M1383.9 1330.9H1405.8" stroke="#f0a15c" stroke-width="4.2"/>
<text x="1417.5" y="1338.8" font-size="22.3" fill="#000" stroke="#000" stroke-width="0.25">1</text>
<path d="M1383.9 1357.8H1405.8" stroke="#e96b3f" stroke-width="4.2"/>
<text x="1417.5" y="1365.7" font-size="22.3" fill="#000" stroke="#000" stroke-width="0.25">2.5</text>
<path d="M1383.9 1384.8H1405.8" stroke="#d93630" stroke-width="4.2"/>
<text x="1417.5" y="1392.7" font-size="22.3" fill="#000" stroke="#000" stroke-width="0.25">5</text>
<path d="M1383.9 1411.7H1405.8" stroke="#a01128" stroke-width="4.2"/>
<text x="1417.5" y="1419.6" font-size="22.3" fill="#000" stroke="#000" stroke-width="0.25">10</text>
</svg></body></html>
